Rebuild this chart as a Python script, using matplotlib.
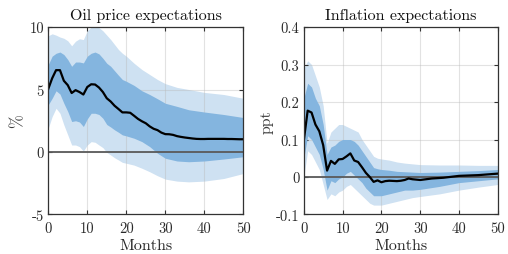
import matplotlib
matplotlib.use("Agg")
import matplotlib.pyplot as plt
from matplotlib.ticker import FuncFormatter

plt.rcParams['font.family'] = ['cmr10', 'DejaVu Serif']
plt.rcParams['mathtext.fontset'] = 'cm'
plt.rcParams['axes.unicode_minus'] = False
plt.rcParams['axes.formatter.use_mathtext'] = False

# ---------- Oil price expectations ----------
oil_med_months = list(range(0, 51))
oil_median = [5.05, 5.9, 6.55, 6.55, 5.7, 5.35, 4.72, 4.95, 4.8, 4.6,
              5.2, 5.42, 5.4, 5.16, 4.8, 4.3, 4.04, 3.7, 3.44, 3.17,
              3.17, 3.14, 2.9, 2.65, 2.46, 2.3, 2.05, 1.86, 1.75, 1.55,
              1.43, 1.42, 1.37, 1.27, 1.21, 1.16, 1.12, 1.08, 1.05, 1.04,
              1.04, 1.05, 1.05, 1.05, 1.05, 1.05, 1.04, 1.04, 1.03, 1.02, 1.02]

oil_band_months = [0, 1, 2, 3, 4, 5, 6, 7, 8, 9, 10, 11, 12, 13, 14, 15, 16,
                   17, 18, 19, 20, 22, 24, 26, 28, 30, 33, 36, 40, 45, 50]
oil_light_up = [9.3, 9.46, 9.35, 9.2, 9.1, 8.9, 8.5, 8.87, 9.06, 9.0, 9.7,
                10.0, 10.1, 9.95, 9.7, 9.35, 9.0, 8.6, 8.2, 7.9, 7.67, 7.1,
                6.6, 6.2, 5.8, 5.47, 5.17, 5.0, 4.77, 4.6, 4.3]
oil_dark_up = [7.0, 7.67, 7.9, 8.0, 7.8, 7.4, 6.86, 7.2, 7.2, 7.13, 7.67,
               7.9, 8.0, 7.85, 7.5, 7.1, 6.86, 6.5, 6.14, 5.8, 5.66, 5.33,
               4.9, 4.6, 4.26, 3.9, 3.65, 3.38, 3.2, 3.0, 2.76]
oil_dark_lo = [3.78, 4.3, 4.9, 4.64, 3.9, 3.24, 2.44, 2.5, 2.4, 2.04, 2.65,
               3.1, 3.1, 3.0, 2.7, 2.2, 2.0, 1.77, 1.58, 1.37, 1.29, 1.1,
               0.83, 0.43, -0.1, -0.5, -0.72, -0.78, -0.72, -0.56, -0.38]
oil_light_lo = [1.9, 2.84, 3.5, 3.1, 2.17, 1.37, 0.56, 0.56, 0.43, 0.08,
                0.56, 0.83, 0.78, 0.56, 0.35, -0.03, -0.24, -0.46, -0.64,
                -0.83, -0.9, -1.05, -1.3, -1.58, -1.9, -2.17, -2.33, -2.39,
                -2.33, -2.12, -1.72]

# ---------- Inflation expectations ----------
inf_med_months = [0, 1, 2, 3, 4, 5, 6, 7, 8, 9, 10, 11, 12, 13, 14, 15, 16,
                  17, 18, 19, 20, 21, 22, 24, 25, 26, 27, 28, 30, 33, 36,
                  40, 45, 50]
inf_median = [0.097, 0.177, 0.172, 0.14, 0.122, 0.085, 0.017, 0.043, 0.035,
              0.047, 0.048, 0.055, 0.063, 0.044, 0.04, 0.026, 0.011, 0.0,
              -0.013, -0.009, -0.014, -0.011, -0.01, -0.011, -0.01, -0.008,
              -0.004, -0.006, -0.008, -0.004, -0.002, 0.003, 0.005, 0.009]

inf_band_months = [0, 1, 2, 3, 4, 5, 6, 7, 8, 9, 10, 11, 12, 13, 14, 15, 16,
                   17, 18, 19, 20, 22, 24, 26, 28, 30, 35, 40, 45, 50]
inf_light_up = [0.29, 0.31, 0.30, 0.27, 0.24, 0.19, 0.09, 0.12, 0.13, 0.14,
                0.14, 0.135, 0.13, 0.125, 0.12, 0.10, 0.085, 0.07, 0.055,
                0.05, 0.048, 0.045, 0.04, 0.037, 0.035, 0.033, 0.032, 0.032,
                0.031, 0.031]
inf_dark_up = [0.21, 0.25, 0.24, 0.21, 0.19, 0.14, 0.06, 0.08, 0.085, 0.095,
               0.10, 0.10, 0.10, 0.095, 0.085, 0.07, 0.055, 0.04, 0.025,
               0.022, 0.02, 0.018, 0.015, 0.014, 0.013, 0.012, 0.013, 0.015,
               0.017, 0.02]
inf_dark_lo = [0.05, 0.11, 0.10, 0.08, 0.06, 0.02, -0.035, -0.01, -0.015,
               -0.005, 0.0, 0.01, 0.015, 0.005, -0.005, -0.015, -0.03, -0.04,
               -0.05, -0.05, -0.05, -0.045, -0.04, -0.035, -0.035, -0.033,
               -0.025, -0.015, -0.01, -0.005]
inf_light_lo = [0.0, 0.07, 0.06, 0.04, 0.02, -0.02, -0.06, -0.045, -0.05,
                -0.04, -0.035, -0.025, -0.02, -0.03, -0.04, -0.05, -0.06,
                -0.07, -0.075, -0.075, -0.075, -0.07, -0.065, -0.06, -0.055,
                -0.052, -0.045, -0.035, -0.027, -0.02]

titles = ["Oil price expectations", "Inflation expectations"]
ylabels = [r"$\%$", "ppt"]
x_ticks = [0, 10, 20, 30, 40, 50]
oil_yticks = [-5, 0, 5, 10]
inf_yticks = [-0.1, 0, 0.1, 0.2, 0.3, 0.4]

LIGHT = "#cee1f2"
DARK = "#84b5df"
EDGE = "#333333"

fig = plt.figure(figsize=(5.08, 2.55), dpi=100)
ax1 = fig.add_axes([0.095, 0.155, 0.384, 0.735])
ax2 = fig.add_axes([0.598, 0.155, 0.382, 0.735])

panels = [
    (ax1, oil_band_months, oil_light_lo, oil_light_up, oil_dark_lo, oil_dark_up,
     oil_med_months, oil_median, oil_yticks, (-5, 10)),
    (ax2, inf_band_months, inf_light_lo, inf_light_up, inf_dark_lo, inf_dark_up,
     inf_med_months, inf_median, inf_yticks, (-0.1, 0.4)),
]

fmt = FuncFormatter(lambda v, p: ("%g" % round(v, 3)))

for i, (ax, bm, llo, lup, dlo, dup, mm, med, yt, yl) in enumerate(panels):
    ax.fill_between(bm, llo, lup, color=LIGHT, lw=0, zorder=1)
    ax.fill_between(bm, dlo, dup, color=DARK, lw=0, zorder=2)
    ax.axhline(0, color="#5a5a5a", lw=1.3, zorder=3)
    ax.plot(mm, med, color="black", lw=1.6, zorder=4)
    ax.set_xlim(0, 50)
    ax.set_ylim(*yl)
    ax.set_xticks(x_ticks)
    ax.set_yticks(yt)
    ax.yaxis.set_major_formatter(fmt)
    ax.grid(True, color="#b8b8b8", alpha=0.4, lw=0.8)
    for g in ax.get_xgridlines() + ax.get_ygridlines():
        g.set_zorder(2.5)
    ax.tick_params(direction="in", top=True, right=True, length=3,
                   width=0.8, color=EDGE, labelsize=10.5, labelcolor="#2a2a2a",
                   pad=3)
    ax.tick_params(axis="x", pad=5)
    for s in ax.spines.values():
        s.set_color(EDGE)
        s.set_linewidth(0.9)
        s.set_zorder(5)
    ax.set_title(titles[i], fontsize=11.5, pad=6, color="#111111")
    ax.set_xlabel("Months", fontsize=11.5, labelpad=2, color="#262626")
    ax.set_ylabel(ylabels[i], fontsize=12 if i == 0 else 11.5, labelpad=2,
                  color="#3a3a3a")

fig.savefig("out.png", dpi=100)
